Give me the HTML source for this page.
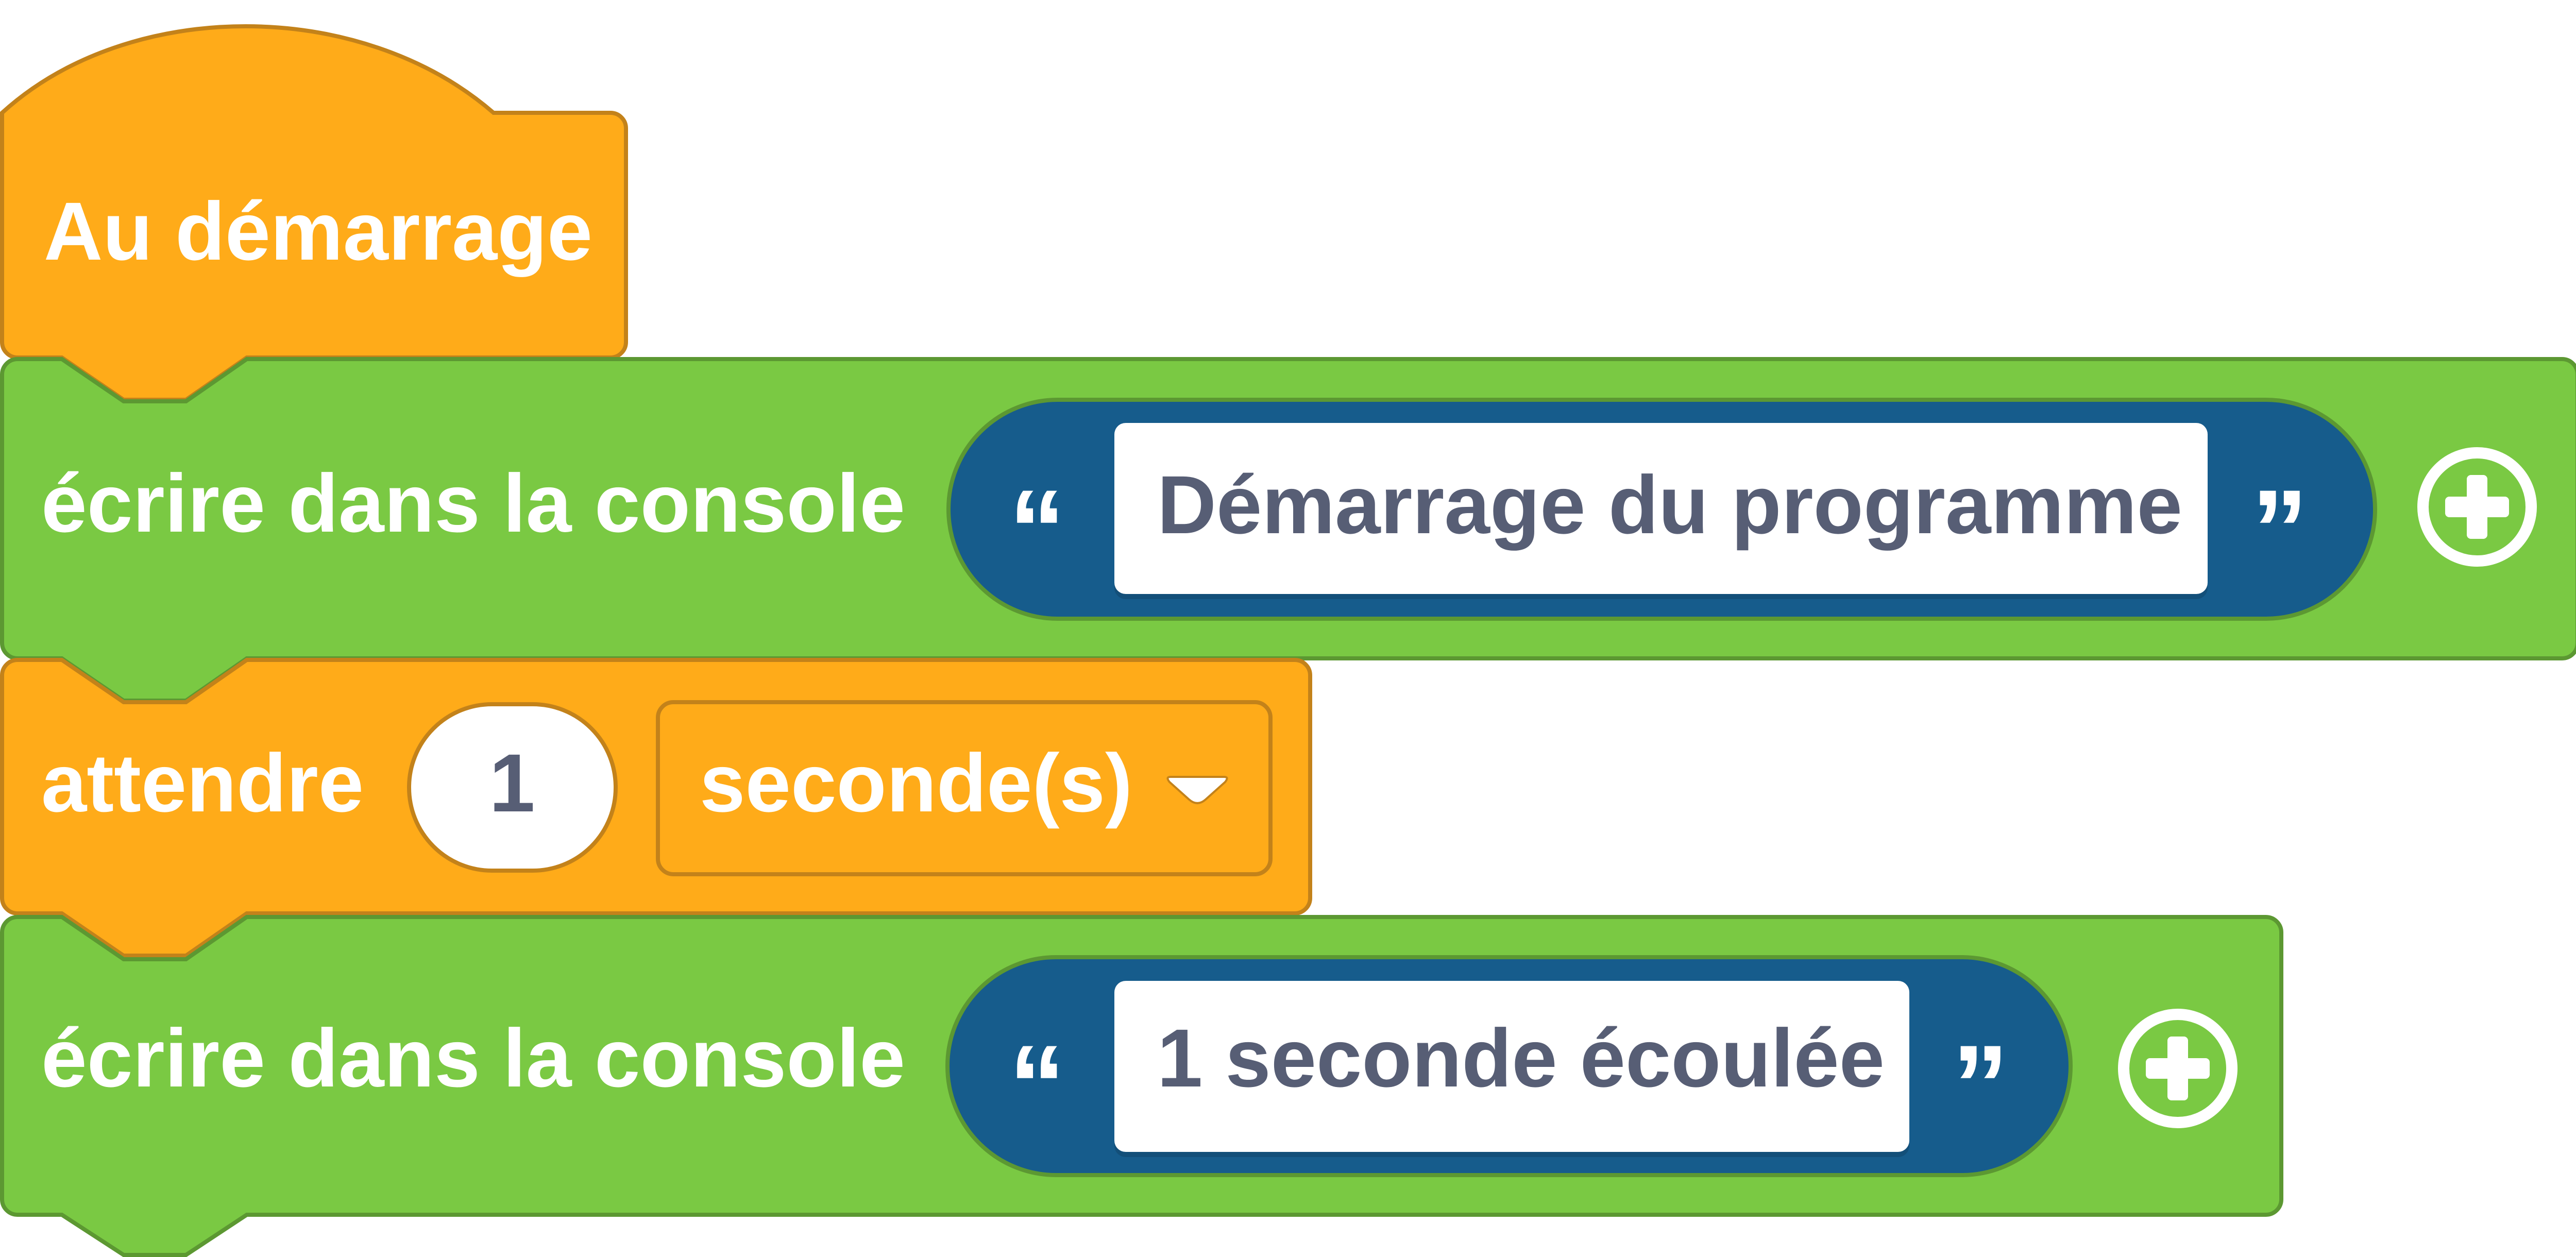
<!DOCTYPE html>
<html><head><meta charset="utf-8"><style>
html,body{margin:0;padding:0;background:#fff;width:5010px;height:2440px;overflow:hidden}
svg{display:block}
text{font-family:"Liberation Sans",Arial,sans-serif;font-weight:bold}
</style></head><body>
<svg width="5010" height="2440" viewBox="0 0 5010 2440" xmlns="http://www.w3.org/2000/svg">
<!-- hat block -->
<path d="M4 219 C250 -5 700 -5 958 219 L1185 219 A30 30 0 0 1 1215 249 L1215 664 A30 30 0 0 1 1185 694 L479 694 L361 776 L240 776 L120 694 L34 694 A30 30 0 0 1 4 664 Z" fill="#FFAB19" stroke="#C3821A" stroke-width="8"/>
<text x="85" y="504" font-size="160" fill="#fff" textLength="1065" lengthAdjust="spacingAndGlyphs">Au démarrage</text>

<!-- green block 1 -->
<path d="M4 727 A30 30 0 0 1 34 697 L120 697 L240 779 L361 779 L479 697 L4973 697 A30 30 0 0 1 5003 727 L5003 1248 A30 30 0 0 1 4973 1278 L479 1278 L361 1360 L240 1360 L120 1278 L34 1278 A30 30 0 0 1 4 1248 Z" fill="#7AC943" stroke="#5C9832" stroke-width="8"/>
<text x="80" y="1032" font-size="160" fill="#fff" textLength="1677" lengthAdjust="spacingAndGlyphs">écrire dans la console</text>
<rect x="1841" y="776" width="2769" height="425" rx="212" fill="#165C8C" stroke="#5C9832" stroke-width="8"/>
<rect x="2163" y="821" width="2122" height="342" rx="22" fill="#134F79"/>
<rect x="2163" y="821" width="2122" height="332" rx="22" fill="#fff"/>
<text x="2246" y="1035" font-size="160" fill="#575E75" textLength="1990" lengthAdjust="spacingAndGlyphs">Démarrage du programme</text>
<text x="2013" y="1104" font-size="220" fill="#fff" text-anchor="middle">“</text>
<text x="4425" y="1104" font-size="220" fill="#fff" text-anchor="middle">”</text>
<circle cx="4808" cy="984" r="105" fill="none" stroke="#fff" stroke-width="22"/>
<rect x="4788" y="922" width="40" height="124" rx="8" fill="#fff"/>
<rect x="4746" y="964" width="124" height="40" rx="8" fill="#fff"/>

<!-- orange block 2 -->
<path d="M4 1311 A30 30 0 0 1 34 1281 L120 1281 L240 1363 L361 1363 L479 1281 L2513 1281 A30 30 0 0 1 2543 1311 L2543 1743 A30 30 0 0 1 2513 1773 L479 1773 L361 1855 L240 1855 L120 1773 L34 1773 A30 30 0 0 1 4 1743 Z" fill="#FFAB19" stroke="#C3821A" stroke-width="8"/>
<text x="80" y="1575" font-size="160" fill="#fff" textLength="626" lengthAdjust="spacingAndGlyphs">attendre</text>
<rect x="794" y="1367" width="401" height="323" rx="161" fill="#fff" stroke="#C3821A" stroke-width="8"/>
<text x="994" y="1575" font-size="160" fill="#575E75" text-anchor="middle">1</text>
<rect x="1277" y="1363" width="1189" height="334" rx="30" fill="#FFAB19" stroke="#C3821A" stroke-width="8"/>
<text x="1358" y="1575" font-size="160" fill="#fff" textLength="840" lengthAdjust="spacingAndGlyphs">seconde(s)</text>
<path d="M2272 1508 L2376 1508 Q2386 1508 2378 1518 L2340 1552 Q2324 1566 2308 1552 L2270 1518 Q2262 1508 2272 1508 Z" fill="#fff" stroke="#C3821A" stroke-width="4"/>

<!-- green block 2 -->
<path d="M4 1810 A30 30 0 0 1 34 1780 L120 1780 L240 1862 L361 1862 L479 1780 L4398 1780 A30 30 0 0 1 4428 1810 L4428 2328 A30 30 0 0 1 4398 2358 L479 2358 L361 2436 L240 2436 L120 2358 L34 2358 A30 30 0 0 1 4 2328 Z" fill="#7AC943" stroke="#5C9832" stroke-width="8"/>
<text x="80" y="2109" font-size="160" fill="#fff" textLength="1677" lengthAdjust="spacingAndGlyphs">écrire dans la console</text>
<rect x="1839" y="1858" width="2180" height="423" rx="211" fill="#165C8C" stroke="#5C9832" stroke-width="8"/>
<rect x="2163" y="1904" width="1543" height="342" rx="22" fill="#134F79"/>
<rect x="2163" y="1904" width="1543" height="332" rx="22" fill="#fff"/>
<text x="2246" y="2109" font-size="160" fill="#575E75" textLength="1412" lengthAdjust="spacingAndGlyphs">1 seconde écoulée</text>
<text x="2013" y="2182" font-size="220" fill="#fff" text-anchor="middle">“</text>
<text x="3844" y="2182" font-size="220" fill="#fff" text-anchor="middle">”</text>
<circle cx="4227" cy="2074" r="105" fill="none" stroke="#fff" stroke-width="22"/>
<rect x="4207" y="2012" width="40" height="124" rx="8" fill="#fff"/>
<rect x="4165" y="2054" width="124" height="40" rx="8" fill="#fff"/>
</svg>
</body></html>
